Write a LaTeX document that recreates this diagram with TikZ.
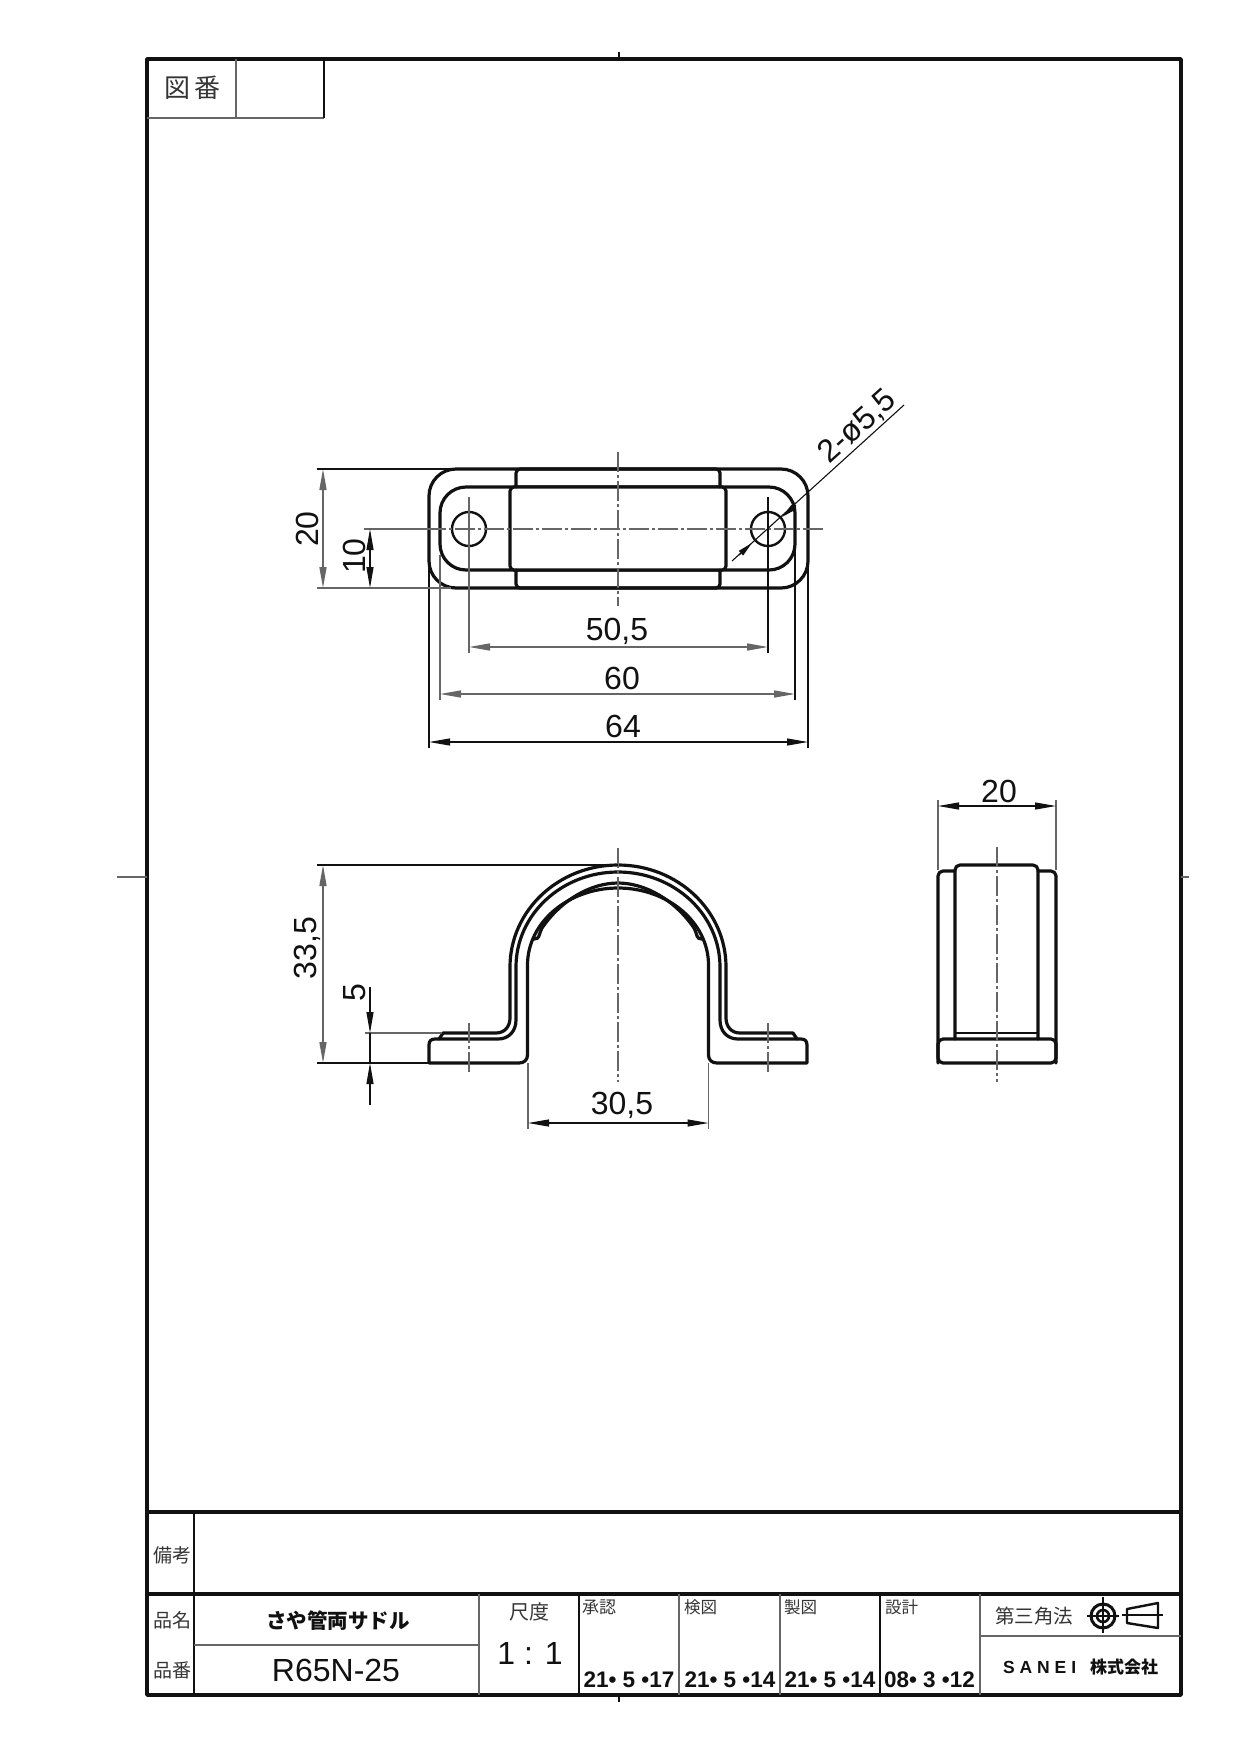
\documentclass[tikz,border=0pt]{standalone}
\usepackage{fontspec}
\setmainfont{Liberation Sans}
\newfontfamily\cjk{Noto Sans CJK JP}
\usetikzlibrary{arrows.meta}
\definecolor{ink}{HTML}{111111}
\definecolor{dimgrey}{HTML}{666666}
\tikzset{
  partline/.style={draw=ink,line width=3.2pt,line join=round,line cap=round},
  frameline/.style={draw=ink,line width=3.4pt,line join=round},
  thinblack/.style={draw=ink,line width=1.1pt},
  thingrey/.style={draw=dimgrey,line width=1.5pt},
  centre/.style={draw=dimgrey,line width=1.3pt,dash pattern=on 20pt off 3pt on 3pt off 3pt},
  dimboth/.style={{Triangle[length=21pt,width=7pt]}-{Triangle[length=21pt,width=7pt]}},
  dimend/.style={-{Triangle[length=21pt,width=7pt]}},
  smallarrow/.style={-{Triangle[length=15pt,width=6pt]}},
  dimtxt/.style={inner sep=0pt,text height=23pt,text depth=0pt,font=\fontsize{32}{32}\selectfont,text=ink},
  jplabel/.style={inner sep=0pt,text=ink!85,font=\cjk\fontsize{#1}{#1}\selectfont},
  datetxt/.style={inner sep=0pt,text=ink,font=\bfseries\fontsize{22.5}{22.5}\selectfont},
}
\begin{document}
\begin{tikzpicture}[x=1pt,y=-1pt]
\useasboundingbox[fill=white] (0,0) rectangle (1240,1754);

% sheet frame
\draw[frameline] (147,59) rectangle (1181,1695);
\draw[frameline] (147,1512) -- (1181,1512);
\draw[frameline] (147,1594) -- (1181,1594);
\draw[thingrey] (147,118) -- (324,118);
\draw[thingrey] (236,59) -- (236,118);
\draw[thinblack] (324,59) -- (324,118);
\draw[thingrey] (117,877) -- (147,877);
\draw[thingrey] (1181,877) -- (1189,877);
\draw[thinblack] (619,52) -- (619,59);
\draw[thinblack] (619,1695) -- (619,1702);

% title block rules
\draw[thinblack,line width=1.5pt] (194,1512) -- (194,1695);
\draw[thingrey] (194,1645) -- (479,1645);
\draw[thingrey] (479,1594) -- (479,1695);
\draw[thinblack,line width=1.4pt] (579,1594) -- (579,1695);
\draw[thingrey] (679,1594) -- (679,1695);
\draw[thingrey] (780,1594) -- (780,1695);
\draw[thinblack,line width=1.4pt] (880,1594) -- (880,1695);
\draw[thingrey] (980,1594) -- (980,1695);
\draw[thingrey] (980,1636) -- (1181,1636);

% title block text
\node[jplabel=26] (zuban) at (192.5,88) {図\hspace{4pt}番};
\node[jplabel=19] (biko) at (172,1555) {備考};
\node[jplabel=19] (hinmei) at (172,1620) {品名};
\node[jplabel=19] (hinban) at (172,1670) {品番};
\node[inner sep=0pt,text=ink,font=\cjk\bfseries\fontsize{20.5}{20.5}\selectfont] (name) at (338,1621) {さや管両サドル};
\node[dimtxt] (partno) at (336,1670) {R65N-25};
\node[jplabel=20] (shakudo) at (529,1612) {尺度};
\node[dimtxt] (scale) at (530,1653) {1 : 1};
\node[jplabel=17,anchor=west] (shonin) at (582,1607) {承認};
\node[jplabel=16.5,anchor=west] (kenzu) at (684,1607) {検図};
\node[jplabel=16.5,anchor=west] (seizu) at (784,1607) {製図};
\node[jplabel=16.5,anchor=west] (sekkei) at (885,1607) {設計};
\node[datetxt] (d1) at (629,1680) {21• 5 •17};
\node[datetxt] (d2) at (730,1680) {21• 5 •14};
\node[datetxt] (d3) at (830,1680) {21• 5 •14};
\node[datetxt] (d4) at (929.5,1680) {08• 3 •12};
\node[jplabel=19.5,anchor=west] (third) at (995,1616) {第三角法};
\node[inner sep=0pt,anchor=west,text=ink,font=\bfseries\fontsize{17.5}{17.5}\selectfont] (sanei) at (1003,1667) {S A N E I};
\node[inner sep=0pt,anchor=west,text=ink,font=\cjk\bfseries\fontsize{17}{17}\selectfont] (kaisha) at (1090,1667) {株式会社};

% third-angle symbol
\draw[thinblack] (1087,1616) -- (1119,1616);
\draw[thinblack] (1103,1597) -- (1103,1633);
\draw[draw=ink,line width=3pt] (1103,1616) circle[radius=12];
\draw[draw=ink,line width=2.6pt] (1103,1616) circle[radius=6];
\draw[draw=ink,line width=2.4pt,line join=round] (1127,1609) -- (1158,1603) -- (1158,1628) -- (1127,1623) -- cycle;
\draw[thinblack] (1122,1615) -- (1163,1615);

\begin{scope}[xshift=1pt]
% ---------- top view ----------
\draw[partline,rounded corners=27pt] (428,469) rectangle (807,588);
\draw[partline,rounded corners=26pt] (439,487) rectangle (794,570);
\draw[partline,fill=white,rounded corners=4pt] (509,487) rectangle (725,570);
\draw[partline,rounded corners=4pt] (515,487) -- (515,469) -- (719,469) -- (719,487);
\draw[partline,rounded corners=4pt] (515,570) -- (515,588) -- (719,588) -- (719,570);
\draw[draw=ink,line width=2.4pt] (468,529) circle[radius=17];
\draw[draw=ink,line width=2.4pt] (767,529) circle[radius=17];

\draw[thingrey] (363,529) -- (425,529);
\draw[centre] (425,529) -- (824,529);
\draw[centre] (617,452) -- (617,606);
\draw[thingrey] (468,497) -- (468,653);
\draw[thinblack] (767,497) -- (767,653);
\draw[thingrey] (439,555) -- (439,700);
\draw[thinblack] (794,505) -- (794,700);
\draw[thinblack] (428,560) -- (428,748);
\draw[thinblack] (807,560) -- (807,748);
\draw[thinblack] (316,469) -- (450,469);
\draw[thingrey] (316,588) -- (450,588);

\draw[thingrey,dimboth] (468,647) -- (767,647);
\draw[thingrey,dimboth] (439,694) -- (794,694);
\draw[thinblack,dimboth] (428,742) -- (807,742);
\draw[thingrey,dimboth] (322,469) -- (322,588);
\draw[thinblack,dimboth] (369,529) -- (369,588);
\node[dimtxt] (t505) at (616,629) {50,5};
\node[dimtxt] (t60) at (621,678) {60};
\node[dimtxt] (t64) at (622,726) {64};
\node[dimtxt,rotate=90] (t20a) at (306,529) {20};
\node[dimtxt,rotate=90] (t10) at (353,556) {10};

% hole leader
\draw[thinblack] (731,561) -- (903,405);
\draw[thinblack,smallarrow] (738,555) -- (751,543);
\draw[thinblack,smallarrow] (795,505) -- (781,517);
\node[dimtxt,rotate=42] (tdia) at (855,425) {2-ø5,5};

% ---------- front view ----------
\draw[partline] (428,1063) -- (428,1045) .. controls (428,1041) and (430,1039) .. (434,1039)
  -- (497,1039) .. controls (508,1039) and (515,1031) .. (515,1020) -- (515,967)
  .. controls (515,914.5) and (560.7,872) .. (617,872)
  .. controls (673.3,872) and (719,914.5) .. (719,967)
  -- (719,1020) .. controls (719,1031) and (726,1039) .. (737,1039)
  -- (800,1039) .. controls (804,1039) and (806,1041) .. (806,1045) -- (806,1063)
  -- (716,1063) .. controls (711,1063) and (707.5,1060) .. (707.5,1055) -- (707.5,965)
  .. controls (707.5,922.5) and (667,888) .. (617,888)
  .. controls (567,888) and (526.5,922.5) .. (526.5,965)
  -- (526.5,1055) .. controls (526.5,1060) and (523,1063) .. (518,1063) -- cycle;
\draw[partline] (438,1039) -- (442,1033) -- (495,1033) .. controls (504,1033) and (509,1026) .. (509,1018)
  -- (509,967) .. controls (509,910.7) and (557.3,865) .. (617,865)
  .. controls (676.7,865) and (725,910.7) .. (725,967)
  -- (725,1018) .. controls (725,1026) and (730,1033) .. (739,1033)
  -- (792,1033) -- (796,1039);
\draw[partline] (533,939) .. controls (539,939) and (537,936) .. (541,928)
  .. controls (560,900) and (590,883) .. (617,883)
  .. controls (644,883) and (674,900) .. (693,928)
  .. controls (697,936) and (695,939) .. (701,939);

\draw[centre] (617,848) -- (617,1082);
\draw[centre] (468,1023) -- (468,1072);
\draw[centre] (767,1023) -- (767,1072);
\draw[thinblack] (316,865) -- (617,865);
\draw[thinblack] (316,1063) -- (428,1063);
\draw[thingrey] (363.5,1033) -- (441,1033);
\draw[thingrey] (527,1063) -- (527,1129);
\draw[thingrey] (707.5,1063) -- (707.5,1129);
\draw[thingrey,dimboth] (322,865) -- (322,1063);
\draw[thinblack,dimend] (369,987) -- (369,1033);
\draw[thinblack,dimend] (369,1105) -- (369,1063);
\draw[thinblack] (369,1033) -- (369,1063);
\draw[thinblack,dimboth] (527,1123) -- (707.5,1123);
\node[dimtxt] (t305) at (621,1103) {30,5};
\node[dimtxt,rotate=90] (t335) at (304,948) {33,5};
\node[dimtxt,rotate=90] (t5) at (353,993) {5};

% ---------- side view ----------
\draw[partline,rounded corners=5pt] (937,1063) -- (937,871) -- (954,871);
\draw[partline,rounded corners=5pt] (1055,1063) -- (1055,871) -- (1037,871);
\draw[partline,rounded corners=5pt] (954,1039) -- (954,865) -- (1037,865) -- (1037,1039);
\draw[partline,rounded corners=5pt] (937,1063) -- (937,1039) -- (1055,1039) -- (1055,1063) -- cycle;
\draw[thinblack,line width=1.4pt] (954,1033) -- (1037,1033);
\draw[centre] (996,847) -- (996,1082);
\draw[thingrey] (937,800) -- (937,870);
\draw[thingrey] (1055,800) -- (1055,870);
\draw[thinblack,dimboth] (937,806) -- (1055,806);
\node[dimtxt] (t20b) at (998,791) {20};
\end{scope}
\end{tikzpicture}
\end{document}
